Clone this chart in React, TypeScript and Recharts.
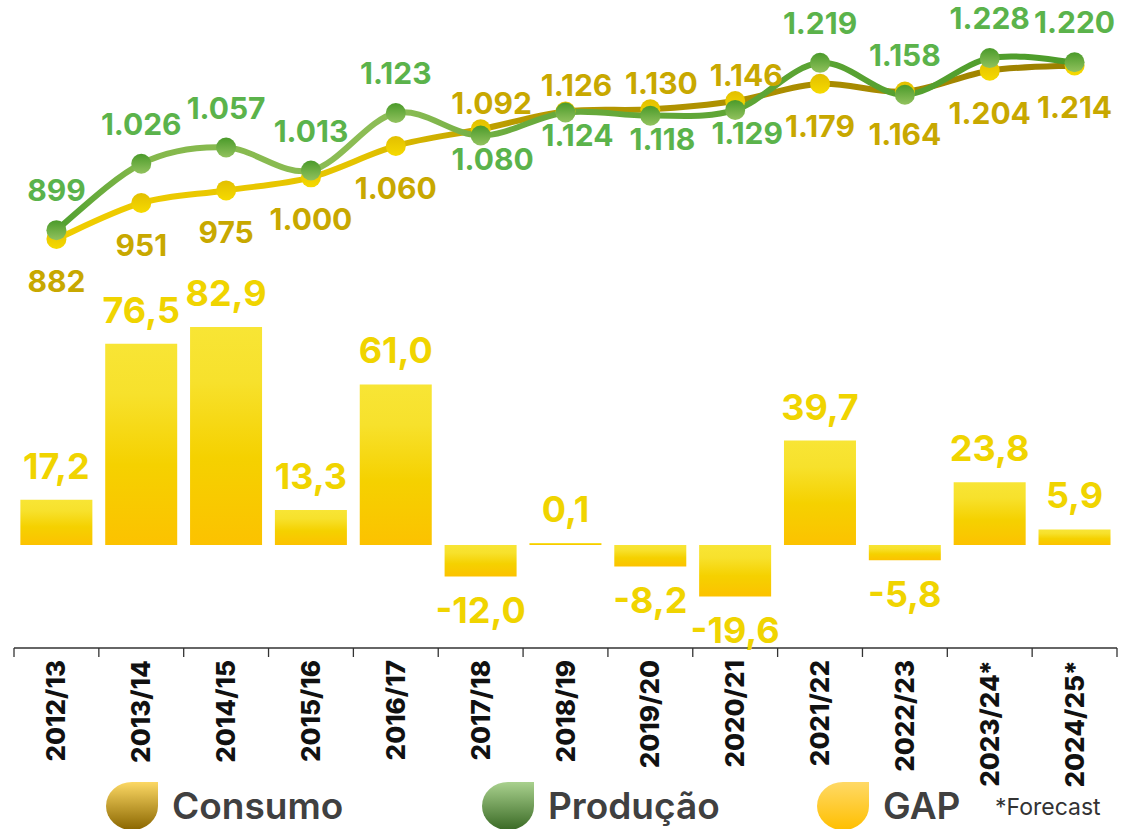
import React from 'react';
import { ComposedChart, Bar, Line, XAxis, YAxis, LabelList } from 'recharts';

const categories = [
  '2012/13', '2013/14', '2014/15', '2015/16', '2016/17', '2017/18', '2018/19',
  '2019/20', '2020/21', '2021/22', '2022/23', '2023/24*', '2024/25*',
];
const consumo = [882, 951, 975, 1000, 1060, 1092, 1126, 1130, 1146, 1179, 1164, 1204, 1214];
const producao = [899, 1026, 1057, 1013, 1123, 1080, 1124, 1118, 1129, 1219, 1158, 1228, 1220];
const gap = [17.2, 76.5, 82.9, 13.3, 61.0, -12.0, 0.1, -8.2, -19.6, 39.7, -5.8, 23.8, 5.9];

const data = categories.map((name, i) => ({
  name,
  consumo: consumo[i],
  producao: producao[i],
  gap: gap[i],
}));

// years where consumo label goes above and produção label below
const flipped = [5, 6, 7, 8];

const FONT = 'Inter, "Noto Sans", sans-serif';

const fmtThousands = (v: number) =>
  v >= 1000 ? `${Math.floor(v / 1000)}.${String(v % 1000).padStart(3, '0')}` : String(v);
const fmtGap = (v: number) => v.toFixed(1).replace('.', ',');

// Excel-like smoothed line (Catmull-Rom)
const smoothCurve = (context: any) => {
  let pts: [number, number][] = [];
  return {
    areaStart() {},
    areaEnd() {},
    lineStart() {
      pts = [];
    },
    lineEnd() {
      if (!pts.length) return;
      context.moveTo(pts[0][0], pts[0][1]);
      for (let i = 0; i < pts.length - 1; i++) {
        const p0 = pts[i - 1] || pts[i];
        const p1 = pts[i];
        const p2 = pts[i + 1];
        const p3 = pts[i + 2] || p2;
        context.bezierCurveTo(
          p1[0] + (p2[0] - p0[0]) / 6,
          p1[1] + (p2[1] - p0[1]) / 6,
          p2[0] - (p3[0] - p1[0]) / 6,
          p2[1] - (p3[1] - p1[1]) / 6,
          p2[0],
          p2[1]
        );
      }
    },
    point(x: number, y: number) {
      pts.push([x, y]);
    },
  };
};

const AxisTick = (props: any) => {
  const { x, y, payload, index } = props;
  const half = payload.offset || 42.4;
  const tx = x + 9;
  const ty = y + 12;
  return (
    <g>
      <line x1={x - half} y1={y} x2={x - half} y2={y + 9} stroke="#333" strokeWidth={1.3} />
      {index === categories.length - 1 && (
        <line x1={x + half} y1={y} x2={x + half} y2={y + 9} stroke="#333" strokeWidth={1.3} />
      )}
      <text
        x={tx}
        y={ty}
        transform={`rotate(-90, ${tx}, ${ty})`}
        textAnchor="end"
        fontSize={26}
        fontWeight={800}
        fill="#111"
        fontFamily={FONT}
      >
        {payload.value}
      </text>
    </g>
  );
};

const pointOf = (props: any) => {
  const vb = props.viewBox || {};
  return { x: props.x ?? vb.x, y: props.y ?? vb.y };
};

const ProdLabel = (props: any) => {
  const { index } = props;
  const { x, y } = pointOf(props);
  const isFlipped = flipped.includes(index);
  return (
    <text
      x={x + (isFlipped ? 12 : 0)}
      y={y + (isFlipped ? 34 : -29)}
      textAnchor="middle"
      fontSize={30}
      fontWeight={700}
      fill="#5bb34b"
      fontFamily={FONT}
    >
      {fmtThousands(producao[index])}
    </text>
  );
};

const ConsLabel = (props: any) => {
  const { index } = props;
  const { x, y } = pointOf(props);
  const isFlipped = flipped.includes(index);
  return (
    <text
      x={x + (isFlipped ? 11 : 0)}
      y={y + (isFlipped ? -15 : 53)}
      textAnchor="middle"
      fontSize={30}
      fontWeight={700}
      fill="#c8a800"
      fontFamily={FONT}
    >
      {fmtThousands(consumo[index])}
    </text>
  );
};

const GapLabel = (props: any) => {
  const { index } = props;
  const vb = props.viewBox || props;
  const v = gap[index];
  const top = Math.min(vb.y, vb.y + vb.height);
  const bottom = Math.max(vb.y, vb.y + vb.height);
  return (
    <text
      x={vb.x + vb.width / 2}
      y={v >= 0 ? top - 21 : bottom + 47}
      textAnchor="middle"
      fontSize={36}
      fontWeight={700}
      fill="#f0d400"
      fontFamily={FONT}
    >
      {fmtGap(v)}
    </text>
  );
};

const GreenDot = (props: any) => (
  <circle key={`pd-${props.index}`} cx={props.cx} cy={props.cy} r={10} fill="url(#dotGreen)" />
);
const GoldDot = (props: any) => (
  <circle key={`cd-${props.index}`} cx={props.cx} cy={props.cy} r={10} fill="url(#dotGold)" />
);

const LegendIcon = ({ id, from, to }: { id: string; from: string; to: string }) => (
  <svg width={52} height={48} style={{ display: 'block' }}>
    <defs>
      <linearGradient id={id} x1="0" y1="0" x2="0" y2="1">
        <stop offset="0" stopColor={from} />
        <stop offset="1" stopColor={to} />
      </linearGradient>
    </defs>
    <path d="M0,24 A26,24 0 0 1 26,0 L52,0 L52,24 A26,24 0 0 1 26,48 A26,24 0 0 1 0,24 Z" fill={`url(#${id})`} />
  </svg>
);

const legendItems = [
  { label: 'Consumo', id: 'lgCons', from: '#fcd864', to: '#8a6600', left: 106 },
  { label: 'Produção', id: 'lgProd', from: '#a9d18e', to: '#3a6a25', left: 482 },
  { label: 'GAP', id: 'lgGap', from: '#ffd966', to: '#ffbf00', left: 817 },
];

export default function App() {
  return (
    <div
      style={{
        position: 'absolute',
        left: 0,
        top: 0,
        width: 1140,
        height: 829,
        background: '#fff',
        fontFamily: FONT,
        overflow: 'hidden',
      }}
    >
      <ComposedChart
        width={1140}
        height={829}
        data={data}
        margin={{ top: 10, right: 23, left: 14, bottom: 0 }}
        barCategoryGap="7.5%"
      >
        <defs>
          <linearGradient id="barGap" x1="0" y1="0" x2="0" y2="1">
            <stop offset="0" stopColor="#f8e535" />
            <stop offset="0.25" stopColor="#f7e12c" />
            <stop offset="0.6" stopColor="#f5d100" />
            <stop offset="1" stopColor="#fcc200" />
          </linearGradient>
          <linearGradient id="lineCons" x1="0" y1="0" x2="1" y2="0">
            <stop offset="0" stopColor="#f0cd00" />
            <stop offset="0.3" stopColor="#e4c300" />
            <stop offset="0.45" stopColor="#b89a00" />
            <stop offset="1" stopColor="#9c8000" />
          </linearGradient>
          <linearGradient id="lineProd" x1="0" y1="0" x2="1" y2="0">
            <stop offset="0" stopColor="#4e9f2e" />
            <stop offset="0.08" stopColor="#84b84b" />
            <stop offset="0.33" stopColor="#8dbd56" />
            <stop offset="0.45" stopColor="#6aab3d" />
            <stop offset="1" stopColor="#4c9c2a" />
          </linearGradient>
          <linearGradient id="dotGreen" x1="0" y1="0" x2="0" y2="1">
            <stop offset="0" stopColor="#4a9a2a" />
            <stop offset="1" stopColor="#92c25e" />
          </linearGradient>
          <linearGradient id="dotGold" x1="0" y1="0" x2="0" y2="1">
            <stop offset="0" stopColor="#e2bf00" />
            <stop offset="1" stopColor="#f6da00" />
          </linearGradient>
        </defs>
        <XAxis
          dataKey="name"
          interval={0}
          height={181}
          tickSize={0}
          tickMargin={0}
          tickLine={false}
          axisLine={{ stroke: '#333', strokeWidth: 1.3 }}
          tick={<AxisTick />}
        />
        <YAxis yAxisId="gap" hide domain={[-39.2, 203.4]} />
        <YAxis yAxisId="lines" hide domain={[100, 1320]} />
        <Bar yAxisId="gap" dataKey="gap" fill="url(#barGap)" minPointSize={2} isAnimationActive={false}>
          <LabelList dataKey="gap" content={<GapLabel />} />
        </Bar>
        <Line
          yAxisId="lines"
          dataKey="consumo"
          type={smoothCurve as any}
          stroke="url(#lineCons)"
          strokeWidth={6}
          dot={GoldDot}
          activeDot={false}
          isAnimationActive={false}
        >
          <LabelList dataKey="consumo" content={<ConsLabel />} />
        </Line>
        <Line
          yAxisId="lines"
          dataKey="producao"
          type={smoothCurve as any}
          stroke="url(#lineProd)"
          strokeWidth={6}
          dot={GreenDot}
          activeDot={false}
          isAnimationActive={false}
        >
          <LabelList dataKey="producao" content={<ProdLabel />} />
        </Line>
      </ComposedChart>
      {legendItems.map((item) => (
        <div
          key={item.id}
          style={{ position: 'absolute', left: item.left, top: 782, display: 'flex', alignItems: 'center' }}
        >
          <LegendIcon id={item.id} from={item.from} to={item.to} />
          <span style={{ marginLeft: 14, fontSize: 37, fontWeight: 600, color: '#404040', lineHeight: '48px' }}>
            {item.label}
          </span>
        </div>
      ))}
      <div style={{ position: 'absolute', left: 995, top: 793, fontSize: 23, color: '#333', lineHeight: '28px' }}>
        *Forecast
      </div>
    </div>
  );
}
